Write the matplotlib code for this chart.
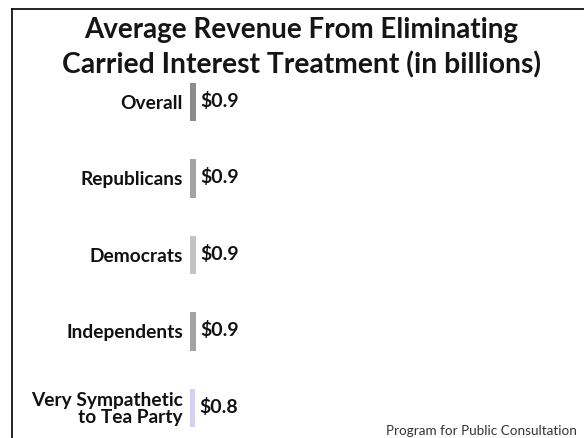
import matplotlib
matplotlib.use("Agg")
import matplotlib.pyplot as plt
from matplotlib.lines import Line2D

# Data
categories = ["Overall", "Republicans", "Democrats", "Independents",
              "Very Sympathetic\nto Tea Party"]
values = [0.9, 0.9, 0.9, 0.9, 0.8]
value_labels = ["$0.9", "$0.9", "$0.9", "$0.9", "$0.8"]
colors = ["#8c8c8c", "#a3a3a3", "#c4c4c4", "#a3a3a3", "#d2d2f0"]

title_lines = ["Average Revenue From Eliminating",
               "Carried Interest Treatment (in billions)"]
source = "Program for Public Consultation"

W, H = 584, 438
fig = plt.figure(figsize=(W / 100, H / 100), dpi=100)
fig.patch.set_facecolor("white")

FONT = ["Lato", "DejaVu Sans"]

def fx(px):
    return px / W

def fy(px):
    return 1 - px / H

# axes: bars centred at y px 102..408, left edge at x=190
row = 76.5
top = 102 - row / 2
bottom = 408 + row / 2
ax = fig.add_axes([fx(190), fy(bottom), fx(390), (bottom - top) / H])
ax.set_facecolor("none")
ypos = list(range(len(categories)))
ax.barh(ypos, values, height=0.5, color=colors, edgecolor="none")
ax.set_ylim(len(categories) - 0.5, -0.5)
ax.set_xlim(0, 390 / 6.6)
for s in ax.spines.values():
    s.set_visible(False)
ax.set_xticks([])
ax.set_yticks(ypos)
ax.set_yticklabels(categories, fontfamily=FONT, fontweight="bold",
                   fontsize=13.8, color="#111111", linespacing=1.0)
ax.tick_params(axis="y", length=0, pad=5)
for lbl in ax.get_yticklabels():
    lbl.set_multialignment("right")

for y, v, t in zip(ypos, values, value_labels):
    ax.annotate(t, xy=(v, y), xytext=(4, 1), textcoords="offset pixels",
                ha="left", va="center", fontfamily=FONT, fontweight="bold",
                fontsize=14, color="#111111")

# title lines (centre x=301, baselines 38 / 73, widths 435 / 480)
t1 = fig.text(fx(301), fy(38), title_lines[0], ha="center", va="baseline",
              fontfamily=FONT, fontweight="bold", fontsize=18,
              color="#151515")
t2 = fig.text(fx(301), fy(73), title_lines[1], ha="center", va="baseline",
              fontfamily=FONT, fontweight="bold", fontsize=18,
              color="#151515")
src = fig.text(fx(577), fy(435), source, ha="right", va="baseline",
               fontfamily=FONT, fontsize=9.5, color="#333333")

# fit title / source widths
fig.canvas.draw()
r = fig.canvas.get_renderer()
for t, target in ((t1, 435), (t2, 480), (src, 190)):
    w = t.get_window_extent(r).width
    t.set_fontsize(t.get_fontsize() * target / w)

# frame (top and left lines)
fig.add_artist(Line2D([fx(12), fx(12)], [fy(9), 0], transform=fig.transFigure,
                      color="black", lw=1.2))
fig.add_artist(Line2D([fx(12), 1], [fy(9), fy(9)], transform=fig.transFigure,
                      color="black", lw=1.2))

fig.savefig("out.png", dpi=100)
